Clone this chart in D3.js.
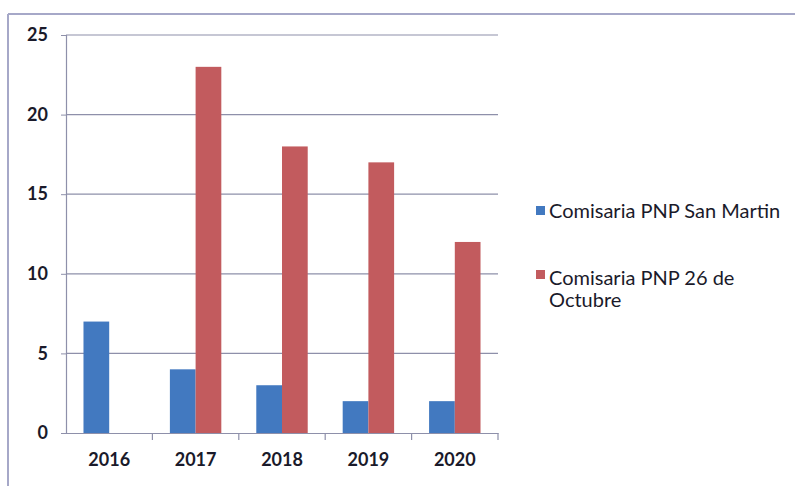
<!DOCTYPE html>
<html><head><meta charset="utf-8">
<script src="https://cdn.jsdelivr.net/npm/d3@7"></script>
<style>body{margin:0;background:#fff}svg{display:block}</style>
</head><body>
<svg id="c" width="795" height="486"></svg>
<script>
const categories = ["2016","2017","2018","2019","2020"];
const seriesNames = ["Comisaria PNP San Martin","Comisaria PNP 26 de Octubre"];
const sanMartin = [7,4,3,2,2];
const octubre = [0,23,18,17,12];
const yTicks = [0,5,10,15,20,25];
const colors = ["#4279c0","#c25b5e"];

const svg = d3.select("#c");
const font = "Lato, 'Open Sans', sans-serif";
svg.append("line").attr("x1",8).attr("x2",795).attr("y1",14).attr("y2",14).attr("stroke","#a6a8c8").attr("stroke-width",2);
svg.append("line").attr("x1",8).attr("x2",8).attr("y1",14).attr("y2",486).attr("stroke","#a6a8c8").attr("stroke-width",2);

const L=66, R=498, T=35, B=433;
const x = d3.scaleBand().domain(categories).range([L,R]).paddingInner(0).paddingOuter(0);
const y = d3.scaleLinear().domain([0,25]).range([B,T]);
const x1 = d3.scaleBand().domain([0,1]).range([0,x.bandwidth()]).paddingInner(0).paddingOuter(0.68);

const g = svg.append("g");
g.selectAll("line.grid").data(yTicks.filter(d=>d>0)).join("line")
 .attr("x1",L).attr("x2",R).attr("y1",d=>y(d)).attr("y2",d=>y(d))
 .attr("stroke","#8e90aa").attr("stroke-width",1.2);

const data = categories.map((c,i)=>({c, v:[sanMartin[i], octubre[i]]}));
const grp = svg.append("g").selectAll("g").data(data).join("g").attr("transform",d=>`translate(${x(d.c)},0)`);
grp.selectAll("rect").data(d=>d.v.map((v,k)=>({v,k}))).join("rect")
 .attr("x",d=>x1(d.k)).attr("width",x1.bandwidth())
 .attr("y",d=>y(d.v)).attr("height",d=>B-y(d.v))
 .attr("fill",d=>colors[d.k]);

const xa = svg.append("g").attr("transform",`translate(0,${B})`)
 .call(d3.axisBottom(x).tickSize(0).tickFormat(d=>d));
xa.select(".domain").attr("stroke","#8e90aa").attr("stroke-width",1.2);
xa.selectAll("text").attr("font-family",font).attr("font-size",18).attr("font-weight","bold").attr("fill","#1a1a2a").attr("dy","1.65em");
svg.append("g").selectAll("line").data(categories).join("line")
 .attr("x1",d=>x(d)+x.bandwidth()).attr("x2",d=>x(d)+x.bandwidth())
 .attr("y1",B).attr("y2",B+7).attr("stroke","#8e90aa").attr("stroke-width",1.2);

const ya = svg.append("g").attr("transform",`translate(${L},0)`)
 .call(d3.axisLeft(y).tickValues(yTicks).tickSize(5).tickPadding(13));
ya.select(".domain").attr("stroke","#8e90aa").attr("stroke-width",1.2);
ya.selectAll(".tick line").attr("stroke","#8e90aa");
ya.selectAll("text").attr("font-family",font).attr("font-size",18).attr("font-weight","bold").attr("fill","#1a1a2a");

const leg = svg.append("g").attr("font-family",font).attr("font-size",20).attr("fill","#1a1a2a");
leg.append("rect").attr("x",536).attr("y",206).attr("width",9).attr("height",9).attr("fill",colors[0]);
leg.append("text").attr("x",549).attr("y",218).text(seriesNames[0]);
leg.append("rect").attr("x",536).attr("y",270).attr("width",9).attr("height",9).attr("fill",colors[1]);
const t2 = leg.append("text").attr("x",549).attr("y",285);
t2.append("tspan").attr("x",549).text("Comisaria PNP 26 de");
t2.append("tspan").attr("x",549).attr("dy",22).text("Octubre");
</script>
</body></html>
